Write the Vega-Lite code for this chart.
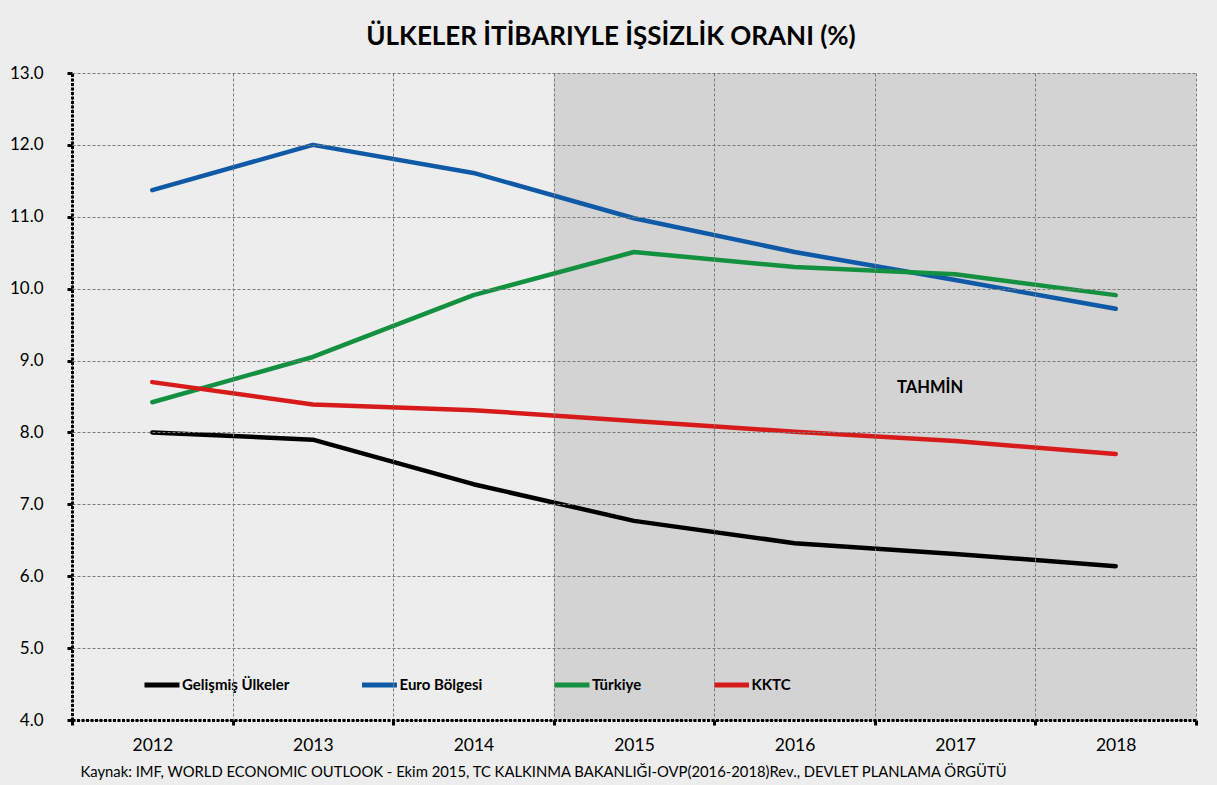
{
  "$schema": "https://vega.github.io/schema/vega-lite/v6.json",
  "width": 1124,
  "height": 647,
  "autosize": "none",
  "padding": {"left": 72, "top": 73, "right": 21, "bottom": 65},
  "background": "#ededed",
  "config": {
    "font": "Lato",
    "view": {"stroke": null, "fill": "#ededed"}
  },
  "title": {
    "text": "ÜLKELER İTİBARIYLE İŞSİZLİK ORANI (%)",
    "fontSize": 26,
    "fontWeight": "bold",
    "color": "#000000",
    "anchor": "middle",
    "frame": "group",
    "dx": -23,
    "offset": 14
  },
  "datasets": {
    "series": [
      {"year": "2012", "country": "Gelişmiş Ülkeler", "rate": 8.0},
      {"year": "2013", "country": "Gelişmiş Ülkeler", "rate": 7.9},
      {"year": "2014", "country": "Gelişmiş Ülkeler", "rate": 7.28},
      {"year": "2015", "country": "Gelişmiş Ülkeler", "rate": 6.77},
      {"year": "2016", "country": "Gelişmiş Ülkeler", "rate": 6.46},
      {"year": "2017", "country": "Gelişmiş Ülkeler", "rate": 6.31},
      {"year": "2018", "country": "Gelişmiş Ülkeler", "rate": 6.14},
      {"year": "2012", "country": "Euro Bölgesi", "rate": 11.37},
      {"year": "2013", "country": "Euro Bölgesi", "rate": 12.0},
      {"year": "2014", "country": "Euro Bölgesi", "rate": 11.61},
      {"year": "2015", "country": "Euro Bölgesi", "rate": 10.98},
      {"year": "2016", "country": "Euro Bölgesi", "rate": 10.51},
      {"year": "2017", "country": "Euro Bölgesi", "rate": 10.12},
      {"year": "2018", "country": "Euro Bölgesi", "rate": 9.72},
      {"year": "2012", "country": "Türkiye", "rate": 8.42},
      {"year": "2013", "country": "Türkiye", "rate": 9.05},
      {"year": "2014", "country": "Türkiye", "rate": 9.91},
      {"year": "2015", "country": "Türkiye", "rate": 10.51},
      {"year": "2016", "country": "Türkiye", "rate": 10.3},
      {"year": "2017", "country": "Türkiye", "rate": 10.2},
      {"year": "2018", "country": "Türkiye", "rate": 9.91},
      {"year": "2012", "country": "KKTC", "rate": 8.7},
      {"year": "2013", "country": "KKTC", "rate": 8.39},
      {"year": "2014", "country": "KKTC", "rate": 8.31},
      {"year": "2015", "country": "KKTC", "rate": 8.16},
      {"year": "2016", "country": "KKTC", "rate": 8.01},
      {"year": "2017", "country": "KKTC", "rate": 7.88},
      {"year": "2018", "country": "KKTC", "rate": 7.7}
    ],
    "forecast": [
      {"year": "2015"}, {"year": "2016"}, {"year": "2017"}, {"year": "2018"}
    ]
  },
  "layer": [
    {
      "data": {"name": "forecast"},
      "mark": {"type": "bar", "color": "#d3d3d3"},
      "encoding": {
        "x": {
          "field": "year",
          "type": "ordinal",
          "scale": {"domain": ["2012", "2013", "2014", "2015", "2016", "2017", "2018"], "paddingInner": 0, "paddingOuter": 0},
          "axis": {
            "orient": "bottom",
            "tickBand": "extent",
            "grid": true,
            "gridColor": "#7a7a7a",
            "gridDash": [3, 2],
            "gridWidth": 1,
            "domainColor": "#000000",
            "domainWidth": 3,
            "domainDash": [3, 1.5],
            "ticks": true,
            "tickSize": 5,
            "tickColor": "#000000",
            "tickWidth": 3,
            "labelFontSize": 17.5,
            "labelColor": "#000000",
            "labelPadding": 11,
            "labelAngle": 0,
            "title": "Kaynak: IMF, WORLD ECONOMIC OUTLOOK - Ekim 2015,  TC KALKINMA BAKANLIĞI-OVP(2016-2018)Rev., DEVLET PLANLAMA ÖRGÜTÜ",
            "titleFontSize": 14.8,
            "titleFontWeight": "normal",
            "titleColor": "#000000",
            "titleAnchor": "start",
            "titleAlign": "left",
            "titleX": 8,
            "titleY": 52,
            "titleBaseline": "middle",
            "zindex": 1
          }
        },
        "y": {
          "datum": 4,
          "type": "quantitative",
          "scale": {"domain": [4, 13], "nice": false, "zero": false},
          "axis": {
            "values": [4, 5, 6, 7, 8, 9, 10, 11, 12, 13],
            "format": ".1f",
            "grid": true,
            "gridColor": "#7a7a7a",
            "gridDash": [3, 2],
            "gridWidth": 1,
            "domainColor": "#000000",
            "domainWidth": 3,
            "domainDash": [3, 1.5],
            "tickSize": 5,
            "tickColor": "#000000",
            "tickWidth": 3,
            "labelFontSize": 17,
            "labelColor": "#000000",
            "labelPadding": 24,
            "title": null,
            "zindex": 1
          }
        },
        "y2": {"datum": 13}
      }
    },
    {
      "data": {"name": "series"},
      "mark": {"type": "line", "strokeWidth": 4.5, "strokeCap": "round", "strokeJoin": "round"},
      "encoding": {
        "x": {"field": "year", "type": "ordinal"},
        "y": {"field": "rate", "type": "quantitative"},
        "color": {
          "field": "country",
          "type": "nominal",
          "scale": {
            "domain": ["Gelişmiş Ülkeler", "Euro Bölgesi", "Türkiye", "KKTC"],
            "range": ["#000000", "#0f5aa6", "#139140", "#d71a1a"]
          },
          "legend": {
            "orient": "none",
            "legendX": 70,
            "legendY": 592,
            "direction": "horizontal",
            "columnPadding": 61.5,
            "symbolType": "stroke",
            "symbolSize": 1225,
            "symbolStrokeWidth": 5,
            "labelFontSize": 15,
            "labelFontWeight": "bold",
            "labelColor": "#000000",
            "labelOffset": 0,
            "title": null,
            "padding": 0
          }
        }
      }
    },
    {
      "data": {"values": [{}]},
      "mark": {"type": "text", "fontSize": 16.5, "fontWeight": "bold", "color": "#000000", "dx": -25},
      "encoding": {
        "x": {"datum": "2017"},
        "y": {"datum": 8.62},
        "text": {"value": "TAHMİN"}
      }
    }
  ]
}
